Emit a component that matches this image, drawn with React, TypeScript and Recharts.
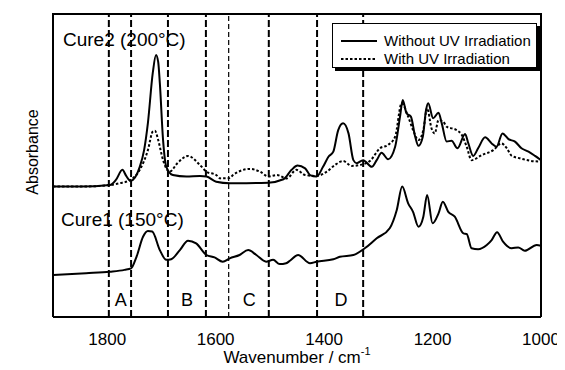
import React from 'react';
import { LineChart, Line, XAxis, YAxis, ReferenceLine, ReferenceDot } from 'recharts';

const FONT = '"Liberation Sans", Arial, Helvetica, sans-serif';

// Cure2 (200°C) without UV irradiation
const cure2WithoutWn = [1900,1850,1795,1784,1772,1765,1757,1740,1732,1725,1716,1710,1706,1703,1697,1691,1679,1654,1629,1617,1599,1574,1561,1503,1475,1460,1449,1435,1426,1414,1402,1392,1383,1374,1365,1355,1346,1340,1328,1312,1303,1294,1282,1269,1260,1255,1248,1240,1232,1226,1218,1212,1208,1199,1189,1183,1174,1165,1154,1140,1134,1125,1116,1103,1091,1082,1071,1060,1048,1036,1023,1011,1000];
const cure2WithoutAbs = [0.429,0.429,0.434,0.451,0.484,0.464,0.448,0.494,0.549,0.638,0.803,0.862,0.839,0.770,0.582,0.494,0.467,0.462,0.464,0.462,0.445,0.440,0.440,0.442,0.453,0.484,0.498,0.489,0.467,0.462,0.494,0.527,0.544,0.615,0.637,0.604,0.516,0.506,0.516,0.494,0.516,0.540,0.519,0.560,0.659,0.714,0.670,0.659,0.593,0.563,0.593,0.681,0.703,0.654,0.672,0.637,0.577,0.580,0.555,0.602,0.571,0.530,0.555,0.591,0.571,0.560,0.604,0.585,0.577,0.555,0.544,0.530,0.516];

// Cure2 (200°C) with UV irradiation
const cure2WithWn = [1900,1850,1795,1777,1757,1740,1725,1716,1712,1706,1697,1685,1670,1651,1629,1617,1599,1592,1574,1568,1537,1518,1503,1487,1469,1451,1435,1414,1395,1380,1365,1349,1334,1315,1297,1282,1269,1257,1245,1236,1226,1217,1210,1202,1196,1189,1180,1174,1156,1146,1137,1128,1109,1088,1073,1063,1054,1039,1020,1000];
const cure2WithAbs = [0.429,0.429,0.434,0.440,0.451,0.484,0.549,0.610,0.613,0.582,0.516,0.478,0.507,0.530,0.500,0.478,0.467,0.456,0.457,0.467,0.487,0.478,0.462,0.467,0.456,0.484,0.467,0.464,0.478,0.500,0.513,0.497,0.500,0.514,0.555,0.566,0.593,0.703,0.659,0.615,0.582,0.615,0.687,0.621,0.604,0.648,0.642,0.626,0.615,0.599,0.560,0.516,0.533,0.549,0.571,0.555,0.530,0.522,0.514,0.511];

// Cure1 (150°C)
const cure1Wn = [1900,1839,1795,1768,1756,1746,1734,1725,1717,1703,1691,1682,1666,1651,1636,1617,1602,1587,1574,1556,1540,1525,1507,1494,1482,1470,1463,1448,1426,1414,1383,1371,1346,1325,1303,1279,1266,1256,1245,1236,1226,1217,1210,1200,1189,1181,1171,1159,1143,1137,1128,1116,1100,1091,1081,1070,1054,1042,1030,1008,1000];
const cure1Abs = [0.138,0.144,0.149,0.155,0.160,0.198,0.264,0.283,0.281,0.220,0.188,0.190,0.220,0.251,0.242,0.204,0.196,0.182,0.193,0.204,0.220,0.204,0.182,0.188,0.174,0.177,0.185,0.204,0.177,0.182,0.190,0.198,0.204,0.226,0.259,0.292,0.352,0.429,0.374,0.346,0.297,0.330,0.401,0.308,0.341,0.379,0.346,0.330,0.275,0.273,0.226,0.223,0.237,0.253,0.279,0.248,0.226,0.229,0.218,0.237,0.234];

// Axis ticks
const xLabelTicks = [1800, 1600, 1400, 1200, 1000];
const xMajorTicks = [1800, 1600, 1400, 1200];
const xMinorTicks = [1850,1750,1700,1650,1550,1500,1450,1350,1300,1250,1150,1100,1050];
const yTicks = [0.138, 0.424];

// Region boundaries and labels
const boldBoundaries = [1797, 1756, 1688, 1618, 1502, 1413, 1328];
const thinBoundaries = [1576];
const regionNames = ['A', 'B', 'C', 'D'];
const regionCenters = [1775, 1653, 1538, 1369];
const regionLabelY = 0.036;

// Sample labels
const sampleNames = ['Cure2 (200°C)', 'Cure1 (150°C)'];
const sampleLabelWn = [1881.6, 1885.2];
const sampleLabelY = [0.892, 0.299];

const legendNames = ['Without UV Irradiation', 'With UV Irradiation'];
const legendDash = ['', '2.5 2'];

const toPoints = (wn: number[], ab: number[]) => wn.map((w, i) => ({ wn: w, abs: ab[i] }));
const cure2Without = toPoints(cure2WithoutWn, cure2WithoutAbs);
const cure2With = toPoints(cure2WithWn, cure2WithAbs);
const cure1 = toPoints(cure1Wn, cure1Abs);

const X_DOMAIN: [number, number] = [1000, 1900];
const Y_DOMAIN: [number, number] = [0, 1];

const AxisTitle = (props: any) => {
  const vb = props.viewBox || {};
  const cx = vb.x + vb.width / 2;
  const y = vb.y + 46;
  return (
    <text x={cx} y={y} textAnchor="middle" fill="#000" fontSize={17} fontFamily={FONT}>
      <tspan>Wavenumber / cm</tspan>
      <tspan fontSize={11} dy={-8}>-1</tspan>
    </text>
  );
};

const YTitle = (props: any) => {
  const vb = props.viewBox || {};
  const cx = vb.x + 24;
  const cy = vb.y + vb.height / 2 - 13;
  return (
    <text x={cx} y={cy} textAnchor="middle" dominantBaseline="central" transform={`rotate(-90, ${cx}, ${cy})`} fill="#000" fontSize={16} fontFamily={FONT}>
      Absorbance
    </text>
  );
};

const tickAxisCommon = {
  type: 'number' as const,
  domain: X_DOMAIN,
  reversed: true,
  allowDataOverflow: true,
  interval: 0 as const,
  tick: false,
  mirror: true,
  height: 1,
};

export default function App() {
  return (
    <div style={{ position: 'relative', width: 557, height: 362, fontFamily: FONT }}>
      <LineChart width={557} height={362} margin={{ top: 5, right: 24, left: 0, bottom: 0 }}>
        <XAxis
          xAxisId="main"
          dataKey="wn"
          type="number"
          domain={X_DOMAIN}
          reversed
          allowDataOverflow
          ticks={xLabelTicks}
          interval={0}
          tickLine={false}
          tickSize={0}
          tickMargin={16}
          height={53}
          axisLine={{ stroke: '#000', strokeWidth: 2 }}
          tick={{ fill: '#000', fontSize: 17, fontFamily: FONT }}
          label={<AxisTitle />}
        />
        <XAxis xAxisId="bMinor" orientation="bottom" {...tickAxisCommon} ticks={xMinorTicks} tickSize={4} axisLine={false} tickLine={{ stroke: '#000', strokeWidth: 1.5 }} />
        <XAxis xAxisId="bMajor" orientation="bottom" {...tickAxisCommon} ticks={xMajorTicks} tickSize={6} axisLine={false} tickLine={{ stroke: '#000', strokeWidth: 1.5 }} />
        <XAxis xAxisId="tMinor" orientation="top" {...tickAxisCommon} ticks={xMinorTicks} tickSize={4} axisLine={{ stroke: '#000', strokeWidth: 2 }} tickLine={{ stroke: '#000', strokeWidth: 1.5 }} />
        <XAxis xAxisId="tMajor" orientation="top" {...tickAxisCommon} ticks={xMajorTicks} tickSize={6} axisLine={false} tickLine={{ stroke: '#000', strokeWidth: 1.5 }} />
        <YAxis yAxisId="title" width={45} domain={Y_DOMAIN} axisLine={false} tickLine={false} tick={false} label={<YTitle />} />
        <YAxis yAxisId="main" type="number" domain={Y_DOMAIN} allowDataOverflow mirror width={1} ticks={yTicks} interval={0} tick={false} tickSize={5} axisLine={{ stroke: '#000', strokeWidth: 2 }} tickLine={{ stroke: '#000', strokeWidth: 1.5 }} />
        <YAxis yAxisId="right" orientation="right" type="number" domain={Y_DOMAIN} mirror width={1} ticks={yTicks} tick={false} tickLine={false} axisLine={{ stroke: '#000', strokeWidth: 2 }} />

        {boldBoundaries.map((b) => (
          <ReferenceLine key={`b${b}`} xAxisId="main" yAxisId="main" x={b} stroke="#000" strokeWidth={2} strokeDasharray="7 3" />
        ))}
        {thinBoundaries.map((b) => (
          <ReferenceLine key={`t${b}`} xAxisId="main" yAxisId="main" x={b} stroke="#000" strokeWidth={1.2} strokeDasharray="5 3" />
        ))}

        <Line xAxisId="main" yAxisId="main" data={cure2With} dataKey="abs" type="monotone" dot={false} stroke="#000" strokeWidth={2} strokeDasharray="2.5 2" isAnimationActive={false} />
        <Line xAxisId="main" yAxisId="main" data={cure2Without} dataKey="abs" type="monotone" dot={false} stroke="#000" strokeWidth={2} isAnimationActive={false} />
        <Line xAxisId="main" yAxisId="main" data={cure1} dataKey="abs" type="monotone" dot={false} stroke="#000" strokeWidth={2} isAnimationActive={false} />

        {regionNames.map((n, i) => (
          <ReferenceDot
            key={n}
            xAxisId="main"
            yAxisId="main"
            x={regionCenters[i]}
            y={regionLabelY}
            r={0}
            fill="none"
            stroke="none"
            label={(p: any) => (
              <text x={p.viewBox.x} y={p.viewBox.y} textAnchor="middle" fill="#000" fontSize={18} fontFamily={FONT}>{n}</text>
            )}
          />
        ))}
        {sampleNames.map((n, i) => (
          <ReferenceDot
            key={n}
            xAxisId="main"
            yAxisId="main"
            x={sampleLabelWn[i]}
            y={sampleLabelY[i]}
            r={0}
            fill="none"
            stroke="none"
            label={(p: any) => (
              <text x={p.viewBox.x} y={p.viewBox.y} textAnchor="start" fill="#000" fontSize={19} fontFamily={FONT}>{n}</text>
            )}
          />
        ))}
      </LineChart>
      <div
        style={{
          position: 'absolute',
          left: 324,
          top: 15,
          width: 205,
          height: 45,
          boxSizing: 'border-box',
          border: '1px solid #000',
          boxShadow: '3px 3px 0 #000',
          background: '#fff',
          fontFamily: FONT,
          fontSize: 15,
          color: '#000',
        }}
      >
        {legendNames.map((n, i) => (
          <div key={n} style={{ position: 'absolute', left: 8, top: 8 + i * 18, height: 18, display: 'flex', alignItems: 'center', whiteSpace: 'nowrap' }}>
            <svg width={36} height={4} style={{ display: 'block' }}>
              <line x1={0} y1={2} x2={36} y2={2} stroke="#000" strokeWidth={2} strokeDasharray={legendDash[i] || undefined} />
            </svg>
            <span style={{ marginLeft: 7, lineHeight: '18px' }}>{n}</span>
          </div>
        ))}
      </div>
    </div>
  );
}
